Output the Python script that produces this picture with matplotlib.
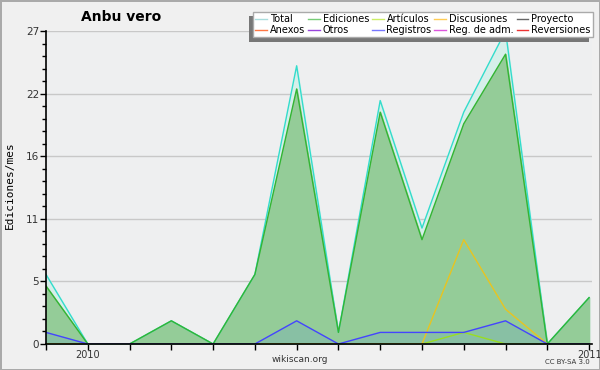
import matplotlib
matplotlib.use("Agg")
import matplotlib.pyplot as plt
import matplotlib.patheffects as pe
from matplotlib.ticker import FixedLocator, MultipleLocator

# monthly values, Dec 2009 .. Jan 2011
months = list(range(14))
x_labels = ["", "2010", "", "", "", "", "", "", "", "", "", "", "", "2011"]
total = [6, 0, 0, 2, 0, 6, 24, 1, 21, 10, 20, 27, 0, 4]
ediciones = [5, 0, 0, 2, 0, 6, 22, 1, 20, 9, 19, 25, 0, 4]
registros = [1, 0, 0, 0, 0, 0, 2, 0, 1, 1, 1, 2, 0, 0]
discusiones = [0, 0, 0, 0, 0, 0, 0, 0, 0, 0, 9, 3, 0, 0]
articulos = [0, 0, 0, 0, 0, 0, 0, 0, 0, 0, 1, 0, 0, 0]

legend_names = ["Total", "Ediciones", "Artículos", "Discusiones", "Proyecto",
                "Anexos", "Otros", "Registros", "Reg. de adm.", "Reversiones"]
legend_colors = ["#aadddd", "#77cc77", "#ccee66", "#ffcc55", "#666666",
                 "#ff7744", "#9944dd", "#7777ff", "#dd55dd", "#ee3333"]

fig = plt.figure(figsize=(6, 3.7), dpi=100)
fig.patch.set_facecolor("#f0f0f0")
fig.patch.set_edgecolor("#aaaaaa")
fig.patch.set_linewidth(2)

ax = fig.add_axes([46 / 600, 1 - 344 / 370, 546 / 600, 313 / 370])
ax.set_facecolor("#eeeff0")

ax.fill_between(months, total, color="#d6efea", zorder=1)
ax.fill_between(months, ediciones, color="#94cc98", zorder=1.1)
ax.fill_between(months, registros, color="#88c0a4", zorder=1.2)

ax.plot(months, total, color="#33dccc", lw=1, zorder=2)
ax.plot(months, ediciones, color="#33b533", lw=1, zorder=2.1)
ax.plot(months, articulos, color="#99dd22", lw=1, zorder=2.2)
ax.plot(months, discusiones, color="#e8c420", lw=1, zorder=2.2)
ax.plot(months, registros, color="#4444ff", lw=1, zorder=2.3)

ax.set_xlim(0, 13.07)
ax.set_ylim(0, 27)
ax.set_xticks(months)
ax.set_xticklabels(x_labels)
yt = [27 * k / 5 for k in range(6)]
ax.yaxis.set_major_locator(FixedLocator(yt))
ax.set_yticklabels([f"{v:.0f}" for v in yt])
ax.yaxis.set_minor_locator(MultipleLocator(27 / 25))
ax.grid(axis="y", color="#c8c8c8", lw=1, zorder=0.5)
ax.set_axisbelow(True)
for s in ["top", "right"]:
    ax.spines[s].set_visible(False)
for s in ["left", "bottom"]:
    ax.spines[s].set_color("black")
    ax.spines[s].set_linewidth(1.2)
ax.tick_params(axis="both", which="major", length=4, width=1, labelsize=7.5,
               colors="black", labelcolor="#333333", pad=1)
ax.tick_params(axis="y", which="minor", length=3, width=1)
ax.tick_params(axis="x", pad=0, labelsize=7)

# legend, filled column by column so it reads row-wise
order = [0, 5, 1, 6, 2, 7, 3, 8, 4, 9]
handles = [plt.Line2D([], [], color=legend_colors[i], lw=1) for i in order]
labels = [legend_names[i] for i in order]
leg = fig.legend(handles, labels, ncol=5, loc="upper right",
                 bbox_to_anchor=(593 / 600, 1 - 12 / 370), fontsize=7,
                 frameon=True, fancybox=False, framealpha=1,
                 handlelength=1.2, handletextpad=0.3, columnspacing=0.3,
                 labelspacing=0.05, borderpad=0.25, borderaxespad=0)
frame = leg.get_frame()
frame.set_facecolor("white")
frame.set_edgecolor("#aaaaaa")
frame.set_path_effects([pe.SimplePatchShadow(offset=(-3, -3),
                                             shadow_rgbFace="#777777", alpha=1),
                        pe.Normal()])

fig.text(121 / 600, 1 - 17 / 370, "Anbu vero", ha="center", va="center",
         fontsize=10, fontweight="bold")
fig.text(10 / 600, 1 - 185 / 370, "Ediciones/mes", rotation=90, ha="center",
         va="center", fontsize=8, family="DejaVu Sans Mono")
fig.text(300 / 600, 1 - 360 / 370, "wikiscan.org", ha="center", va="center",
         fontsize=6.5, color="#333333")
fig.text(590 / 600, 1 - 362 / 370, "CC BY-SA 3.0", ha="right", va="center",
         fontsize=5, color="#333333")

fig.savefig("out.png", dpi=100, facecolor=fig.get_facecolor(),
            edgecolor=fig.get_edgecolor())
